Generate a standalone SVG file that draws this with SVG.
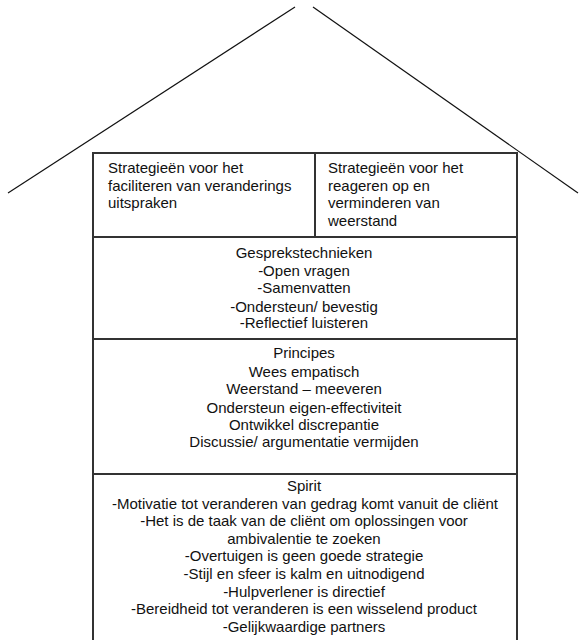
<svg xmlns="http://www.w3.org/2000/svg" width="579" height="640" viewBox="0 0 579 640">
<style>
.bg{fill:#ffffff}
.roof{stroke:#111;stroke-width:1.2;fill:none}
.frame{stroke:#333;stroke-width:2;fill:none}
.t{font-family:"Liberation Sans",Arial,sans-serif;font-size:15px;fill:#111}
.c{text-anchor:middle}
</style>
<rect class="bg" x="0" y="0" width="579" height="640"/>
<g id="roof">
<line class="roof" x1="8" y1="193" x2="295" y2="7"/>
<line class="roof" x1="313" y1="7" x2="578" y2="193"/>
</g>
<g id="connectors"></g>
<g id="frame">
<polyline class="frame" points="93,640 93,153 517,153 517,640"/>
</g>
<g id="strategie-faciliteren">
<text class="t" x="108" y="173">Strategieën voor het</text>
<text class="t" x="108" y="191">faciliteren van veranderings</text>
<text class="t" x="108" y="208">uitspraken</text>
</g>
<g id="strategie-weerstand">
<line class="frame" x1="315" y1="153" x2="315" y2="237"/>
<text class="t" x="328" y="173">Strategieën voor het</text>
<text class="t" x="328" y="191">reageren op en</text>
<text class="t" x="328" y="208">verminderen van</text>
<text class="t" x="328" y="226">weerstand</text>
</g>
<g id="gesprekstechnieken">
<line class="frame" x1="93" y1="237" x2="517" y2="237"/>
<text class="t c" x="304" y="258">Gesprekstechnieken</text>
<text class="t c" x="304" y="276">-Open vragen</text>
<text class="t c" x="304" y="293">-Samenvatten</text>
<text class="t c" x="304" y="312">-Ondersteun/ bevestig</text>
<text class="t c" x="304" y="328">-Reflectief luisteren</text>
</g>
<g id="principes">
<line class="frame" x1="93" y1="339" x2="517" y2="339"/>
<text class="t c" x="304" y="358">Principes</text>
<text class="t c" x="304" y="377">Wees empatisch</text>
<text class="t c" x="304" y="394">Weerstand – meeveren</text>
<text class="t c" x="304" y="413">Ondersteun eigen-effectiviteit</text>
<text class="t c" x="304" y="430">Ontwikkel discrepantie</text>
<text class="t c" x="304" y="447">Discussie/ argumentatie vermijden</text>
</g>
<g id="spirit">
<line class="frame" x1="93" y1="474" x2="517" y2="474"/>
<text class="t c" x="304" y="491">Spirit</text>
<text class="t c" x="305" y="509">-Motivatie tot veranderen van gedrag komt vanuit de cliënt</text>
<text class="t c" x="304" y="526">-Het is de taak van de cliënt om oplossingen voor</text>
<text class="t c" x="304" y="544">ambivalentie te zoeken</text>
<text class="t c" x="304" y="561">-Overtuigen is geen goede strategie</text>
<text class="t c" x="304" y="579">-Stijl en sfeer is kalm en uitnodigend</text>
<text class="t c" x="304" y="597">-Hulpverlener is directief</text>
<text class="t c" x="304" y="614">-Bereidheid tot veranderen is een wisselend product</text>
<text class="t c" x="304" y="632">-Gelijkwaardige partners</text>
</g>
</svg>
